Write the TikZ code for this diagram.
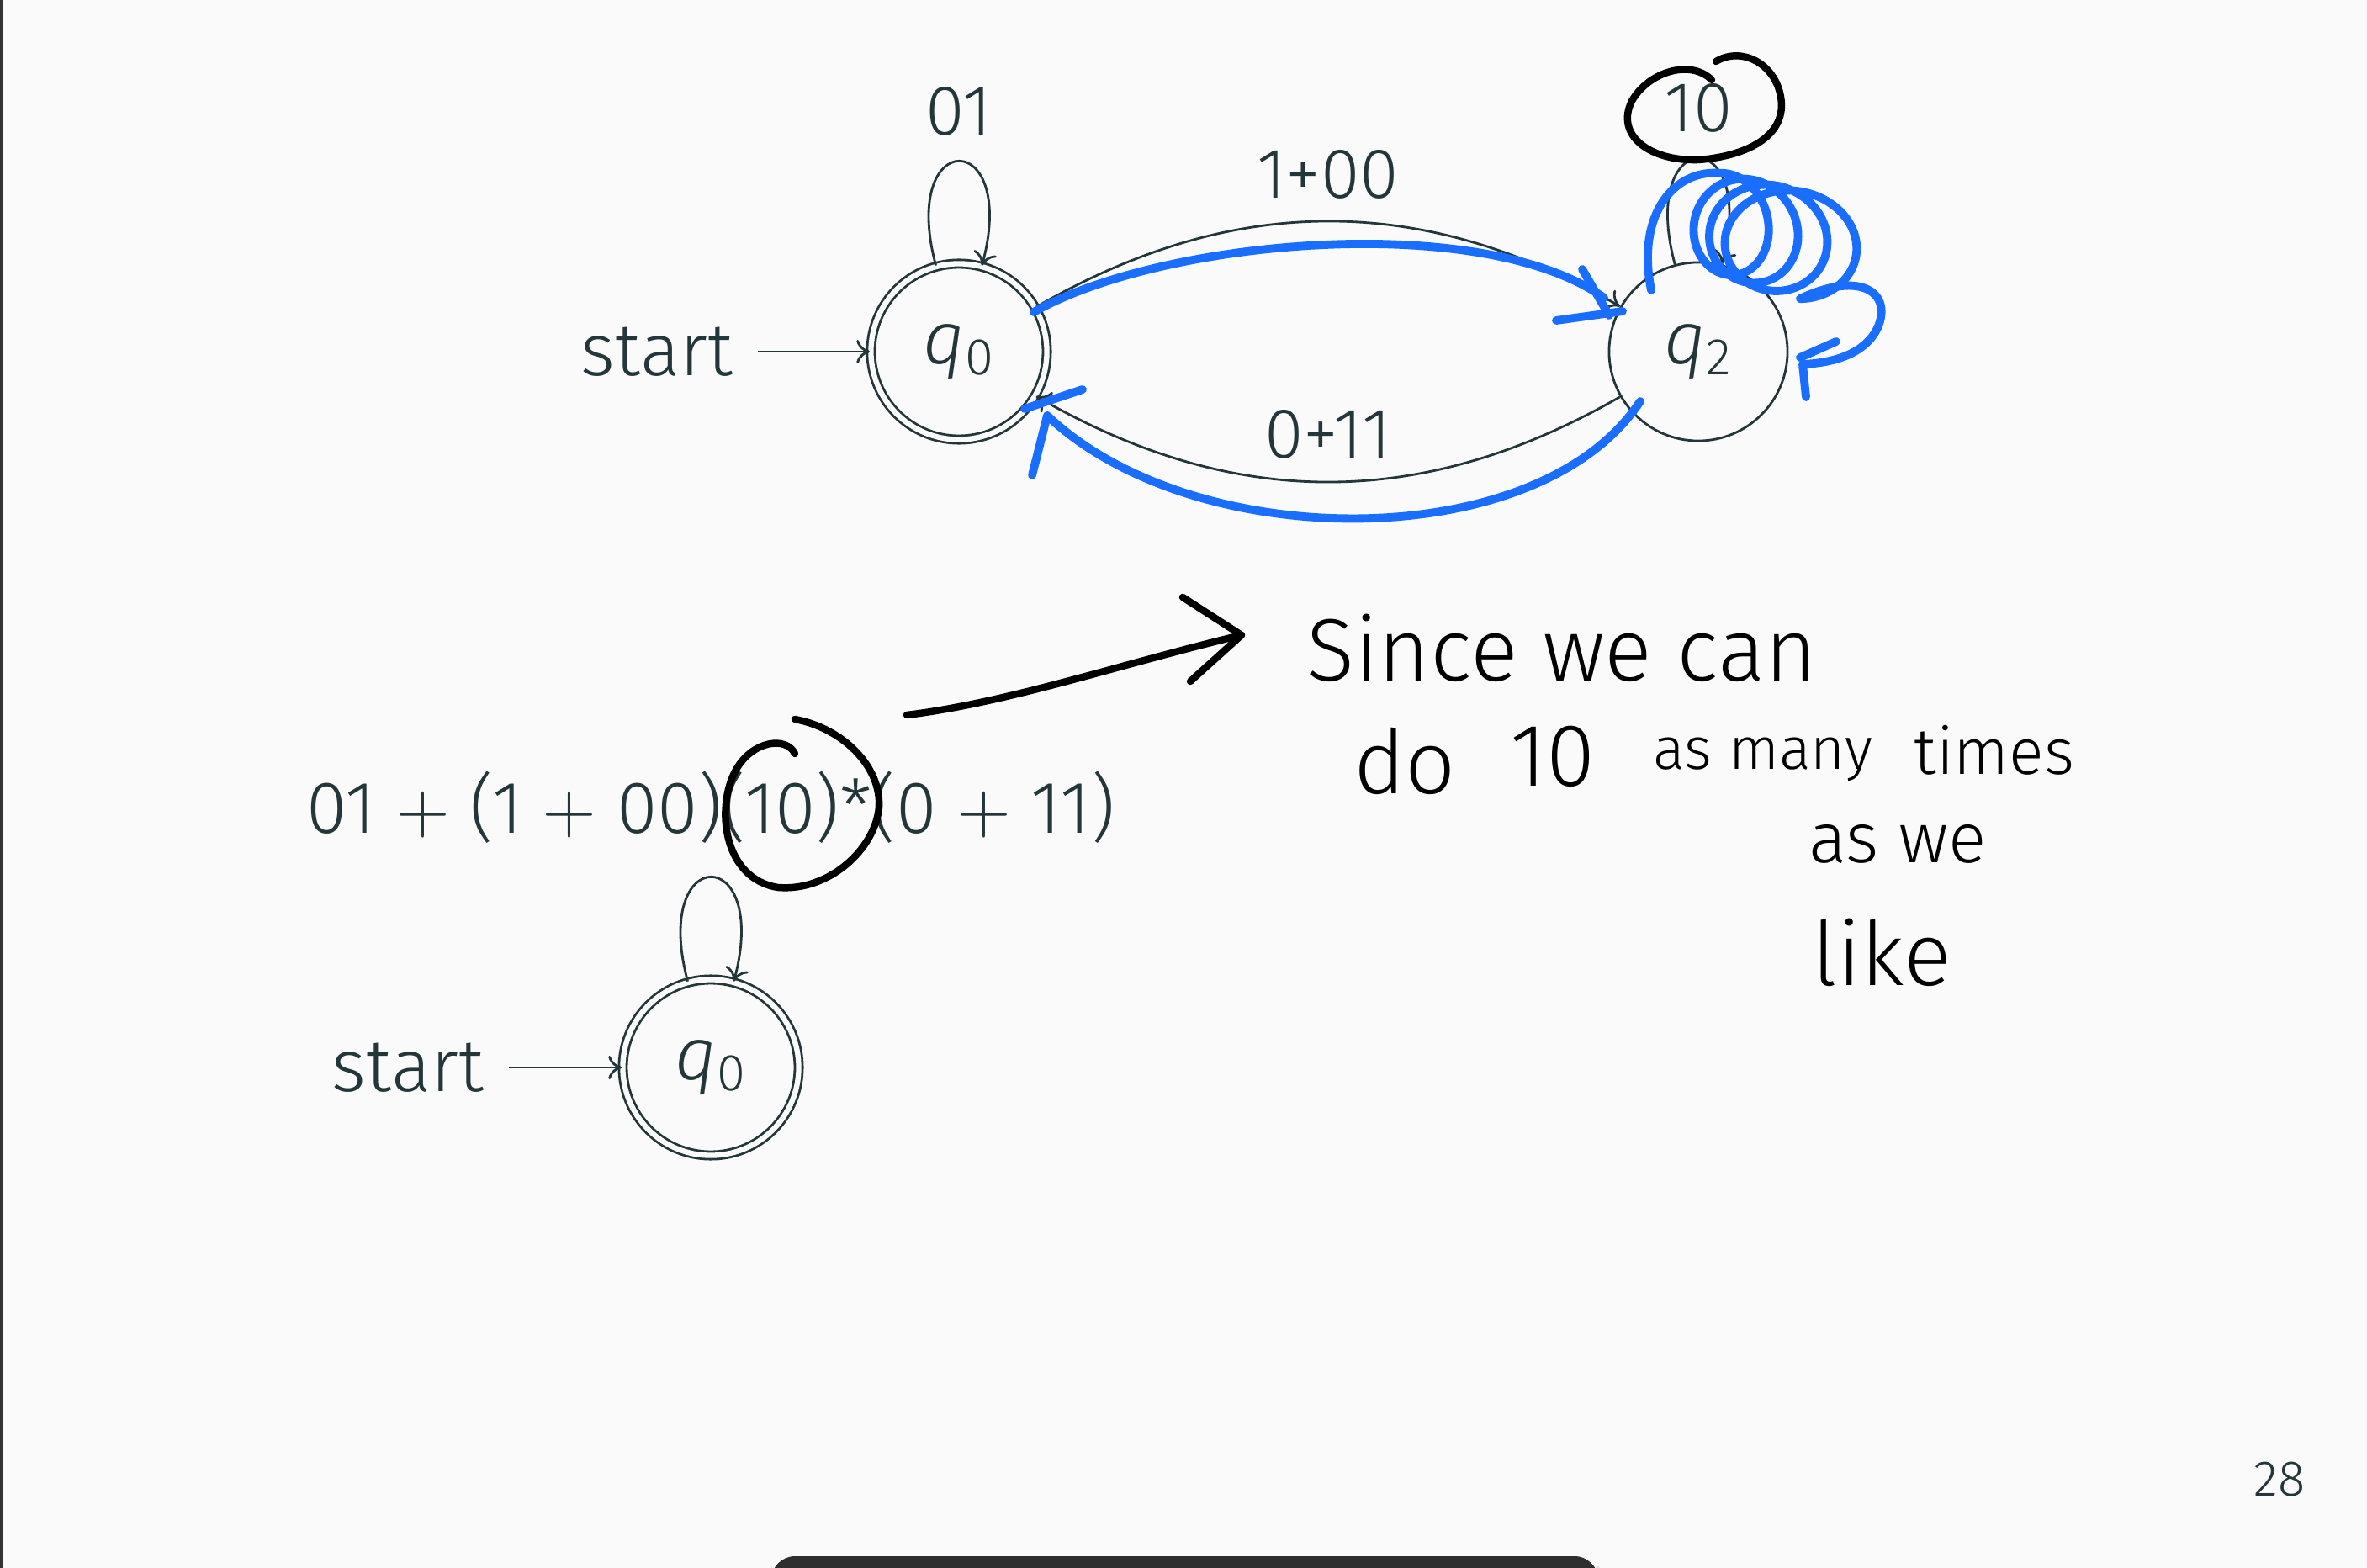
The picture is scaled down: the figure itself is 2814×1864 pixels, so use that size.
\documentclass[tikz,border=0pt]{standalone}
\usepackage{fontspec}
\setmainfont{Fira Sans}[UprightFont={* Light},ItalicFont={* Light Italic}]
\newfontfamily\handfont{Fira Sans}[UprightFont={* Light}]
\usetikzlibrary{arrows.meta}
\definecolor{myslate}{HTML}{23373B}
\definecolor{mypaper}{HTML}{FAFAFA}
\definecolor{myblue}{HTML}{1A6EFF}
\definecolor{mybar}{HTML}{2E2E2E}

\begin{document}
\begin{tikzpicture}[x=0.01cm,y=-0.01cm,>={To[length=4.5pt,width=8pt]},
	state/.style={circle,draw=myslate,line width=0.8pt,minimum size=2.12cm,inner sep=0pt,text=myslate,font=\fontsize{25}{30}\selectfont},
	accept/.style={state,double=mypaper,double distance=1.8pt,minimum size=2.09cm},
	trans/.style={->,draw=myslate,line width=0.8pt},
	lbl/.style={text=myslate,font=\fontsize{24}{28}\selectfont},
	big/.style={text=myslate,font=\fontsize{25}{30}\selectfont},
	pen/.style={black,line width=2.4pt,line cap=round,line join=round},
	bluepen/.style={myblue,line width=2.8pt,line cap=round,line join=round},
	hand/.style={font=\handfont\fontsize{30}{36}\selectfont}]
	\fill[mypaper] (0,0) rectangle (2814,1864);
	\useasboundingbox (0,0) rectangle (2814,1864);
	\draw[black!80, line width=1.2pt] (2,0) -- (2,1864);
	\fill[mybar, rounded corners=8] (917,1850) rectangle (1900,1890);
	
	\node[accept] (q0) at (1140,418) {\textit{q}\textsubscript{0}};
	\node[state] (q2) at (2019,418) {\textit{q}\textsubscript{2}};
	\node[big] (start1) at (781,418) {start};
	\draw[trans, shorten <=5pt] (start1) -- (q0);
	\draw[trans] (q0) to[loop above] node[lbl,above=5pt] (l01) {01} (q0);
	\draw[trans] (q2) to[loop above] node[lbl,above=5pt] (l10) {10} (q2);
	\draw[trans] (q0) to[bend left=30] node[lbl,above=4pt] (l100) {1+00} (q2);
	\draw[trans] (q2) to[bend left=30] node[lbl,above=4pt] (l011) {0+11} (q0);
	
	\node[big] (expr) at (845,960) {01\;$+$\;(1\;$+$\;00)(10)*(0\;$+$\;11)};
	\node[accept] (p0) at (845,1269) {\textit{q}\textsubscript{0}};
	\node[big] (start2) at (485,1269) {start};
	\draw[trans, shorten <=5pt] (start2) -- (p0);
	\draw[trans] (p0) to[loop above] (p0);
	
	\node[lbl, font=\fontsize{17}{20}\selectfont] (page) at (2710,1759) {28};
	
	\draw[pen] (2035,95) .. controls (2010,70) and (1960,85) .. (1940,120) .. controls (1920,160) and (1960,192) .. (2020,190) .. controls (2080,185) and (2125,160) .. (2117,115) .. controls (2110,75) and (2070,55) .. (2040,73);
	\draw[pen] (945,896) .. controls (935,875) and (895,880) .. (875,915) .. controls (850,960) and (860,1045) .. (925,1055) .. controls (985,1060) and (1040,1010) .. (1045,960) .. controls (1048,910) and (1000,865) .. (945,855);
	\draw[pen] (1078,850) .. controls (1200,835) and (1330,790) .. (1476,755);
	\draw[pen] (1406,710) -- (1476,755) -- (1415,810);
	
	\node[hand] (since) at (1857,770) {Since we can};
	\node[hand] (do) at (1670,905) {do};
	\node[hand] (ten) at (1846,899) {10};
	\node[hand, font=\handfont\fontsize{20}{24}\selectfont] (many) at (2096,903) {as many};
	\node[hand, font=\handfont\fontsize{22}{26}\selectfont] (times) at (2371,892) {times};
	\node[hand, font=\handfont\fontsize{24}{28}\selectfont] (aswe) at (2256,1003) {as we};
	\node[hand] (like) at (2237,1132) {like};
	
	\draw[bluepen] (1229,371) .. controls (1380,285) and (1760,250) .. (1907,354);
	\draw[bluepen] (1850,381) -- (1929,370);
	\draw[bluepen] (1881,320) -- (1913,375);
	\draw[bluepen] (1950,477) .. controls (1830,660) and (1420,660) .. (1245,494) -- (1227,565);
	\draw[bluepen] (1218,486) -- (1287,463);
	\draw[bluepen] (1963,345) .. controls (1945,255) and (1990,200) .. (2047,206);
	\draw[bluepen] plot[smooth, domain=1.571:23.56, samples=150] ({2040+4.25*\x-(45+1.3*\x)*cos(\x r)},{262+1.3*\x-(58+0.2*\x)*sin(\x r)});
	\draw[bluepen] (2140,355) .. controls (2215,320) and (2250,350) .. (2232,390) .. controls (2215,425) and (2170,432) .. (2143,433) -- (2147,472);
	\draw[bluepen] (2140,425) -- (2183,406);
\end{tikzpicture}
\end{document}
